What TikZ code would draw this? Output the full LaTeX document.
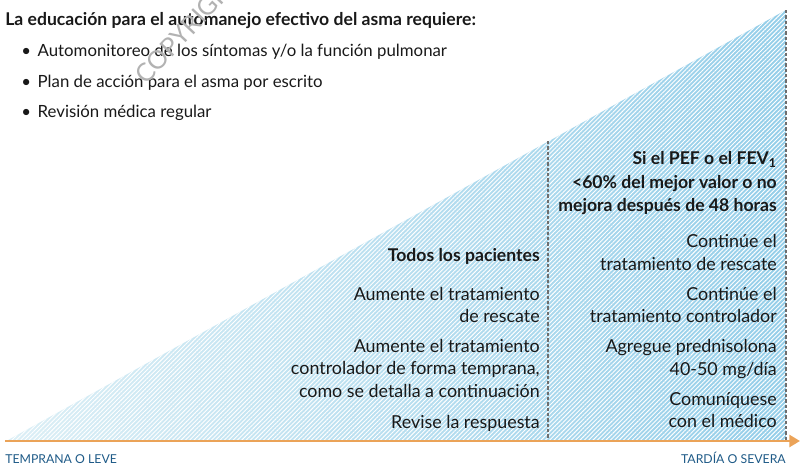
\documentclass[tikz,border=0pt]{standalone}
\usepackage{fontspec}
\setmainfont{Lato}
\usetikzlibrary{arrows.meta,patterns.meta}

\definecolor{triLight}{RGB}{220,239,246}
\definecolor{triDark}{RGB}{148,206,233}
\definecolor{axisOrange}{RGB}{235,163,88}
\definecolor{labelBlue}{RGB}{30,90,135}
\definecolor{divGray}{RGB}{110,110,110}

\tikzset{
  txt/.style={anchor=base east, inner sep=0pt, text=black!90,
    font=\fontsize{13.4}{15}\selectfont},
  hdr/.style={txt, font=\fontsize{13.2}{15}\selectfont\bfseries},
  lefttxt/.style={txt, anchor=base west, font=\fontsize{12.6}{15}\selectfont},
  divline/.style={draw=divGray, line width=0.9pt, dash pattern=on 2.5pt off 1.5pt},
  axis/.style={draw=axisOrange, line width=2.2pt,
    -{Triangle[length=8pt,width=9pt]}},
  endlabel/.style={inner sep=0pt, text=labelBlue,
    font=\fontsize{9.2}{11}\selectfont},
  wmark/.style={anchor=base west, inner sep=0pt, rotate=47, text=gray!60,
    font=\fontsize{19}{19}\selectfont}
}

\begin{document}
\begin{tikzpicture}[x=0.75pt,y=-0.75pt]
\useasboundingbox (0,0) rectangle (801,465);

% triangle
\coordinate (tri-left) at (8,440);
\coordinate (tri-top) at (786,10);
\coordinate (tri-corner) at (786,440);
\coordinate (div-top) at (548,141);
\coordinate (div-bot) at (548,440);
\shade[left color=triLight, right color=triDark]
  (tri-left) -- (tri-top) -- (tri-corner) -- cycle;
\fill[pattern={Lines[angle=45,distance=2.3pt,line width=0.7pt]}, pattern color=white]
  (tri-left) -- (tri-top) -- (tri-corner) -- cycle;
\draw[divline] (div-top) -- (div-bot);
\draw[divline] (tri-top) -- (tri-corner);

% axis
\coordinate (arr-start) at (5,441);
\coordinate (arr-end) at (800,441);
\draw[axis] (arr-start) -- (arr-end);
\node[endlabel, anchor=base west] (early) at (5,463) {TEMPRANA O LEVE};
\node[endlabel, anchor=base east] (late) at (786,463) {TARDÍA O SEVERA};

% education list
\node[lefttxt, font=\fontsize{13.2}{15}\selectfont\bfseries] (title) at (5,25)
  {La educación para el automanejo efectivo del asma requiere:};
\node[lefttxt] (b1) at (21,56) {\textbullet\hspace{5pt}Automonitoreo de los síntomas y/o la función pulmonar};
\node[lefttxt] (b2) at (21,87) {\textbullet\hspace{5pt}Plan de acción para el asma por escrito};
\node[lefttxt] (b3) at (21,117) {\textbullet\hspace{5pt}Revisión médica regular};

% all patients
\node[hdr] (all) at (540,261) {Todos los pacientes};
\foreach \txt/\yy [count=\i] in {
    {Aumente el tratamiento}/300, {de rescate}/322,
    {Aumente el tratamiento}/352, {controlador de forma temprana,}/374,
    {como se detalla a continuación}/397, {Revise la respuesta}/428}
  \node[txt] (all-\i) at (540,\yy) {\txt};

% severe
\node[hdr] (sev-1) at (777,164) {Si el PEF o el FEV\textsubscript{1}};
\node[hdr] (sev-2) at (777,188) {<60\% del mejor valor o no};
\node[hdr] (sev-3) at (777,211) {mejora después de 48 horas};
\foreach \txt/\yy [count=\i] in {
    {Continúe el}/247, {tratamiento de rescate}/270,
    {Continúe el}/300, {tratamiento controlador}/322,
    {Agregue prednisolona}/352, {40-50 mg/día}/375,
    {Comuníquese}/405, {con el médico}/427}
  \node[txt] (act-\i) at (777,\yy) {\txt};

\node[wmark] (wm) at (146,86) {COPYRIGHT};
\end{tikzpicture}
\end{document}
